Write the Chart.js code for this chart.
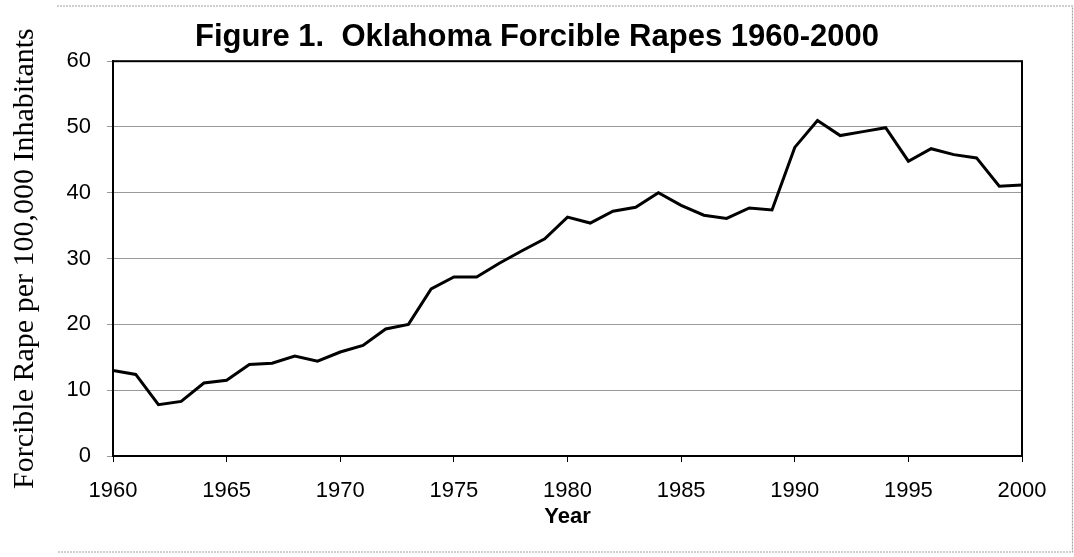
<!DOCTYPE html>
<html>
<head>
<meta charset="utf-8">
<script src="https://cdn.jsdelivr.net/npm/chart.js@4.4.0/dist/chart.umd.min.js"></script>
<style>
  html, body { margin: 0; padding: 0; background: #fff; }
  #wrap { width: 1074px; height: 557px; }
</style>
</head>
<body>
<div id="wrap"><canvas id="myChart" width="1074" height="557"></canvas></div>
<script>
const years = [
    1960, 1961, 1962, 1963, 1964, 1965, 1966, 1967, 1968, 1969,
    1970, 1971, 1972, 1973, 1974, 1975, 1976, 1977, 1978, 1979,
    1980, 1981, 1982, 1983, 1984, 1985, 1986, 1987, 1988, 1989,
    1990, 1991, 1992, 1993, 1994, 1995, 1996, 1997, 1998, 1999, 2000
];
const rapeRate = [
    13.0, 12.4, 7.8, 8.3, 11.1, 11.5, 13.9, 14.1, 15.2, 14.4,
    15.8, 16.8, 19.3, 20.0, 25.4, 27.2, 27.2, 29.3, 31.2, 33.0,
    36.3, 35.4, 37.2, 37.8, 40.0, 38.1, 36.6, 36.1, 37.7, 37.4,
    46.9, 51.0, 48.7, 49.3, 49.9, 44.8, 46.7, 45.8, 45.3, 41.0, 41.2
];
const yTicks = [0, 10, 20, 30, 40, 50, 60];
const xTicks = [1960, 1965, 1970, 1975, 1980, 1985, 1990, 1995, 2000];

const points = years.map((yr, i) => ({ x: yr, y: rapeRate[i] }));

// black frame round the plot area, light frame round the figure
const frames = {
    id: 'frames',
    afterDraw(chart) {
        const { ctx, chartArea: a } = chart;
        ctx.save();
        ctx.strokeStyle = '#000';
        ctx.lineWidth = 2;
        ctx.strokeRect(a.left, a.top, a.right - a.left, a.bottom - a.top);
        ctx.strokeStyle = '#a0a0a0';
        ctx.lineWidth = 1.2;
        ctx.setLineDash([2, 1]);
        ctx.beginPath();
        ctx.moveTo(57, 6);
        ctx.lineTo(1072.5, 6);
        ctx.lineTo(1072.5, 552);
        ctx.lineTo(57, 552);
        ctx.stroke();
        ctx.restore();
    }
};

const ctx = document.getElementById('myChart');

new Chart(ctx, {
    type: 'line',
    data: {
        datasets: [{
            label: 'Forcible Rape',
            data: points,
            borderColor: '#000',
            borderWidth: 3,
            pointRadius: 0,
            tension: 0,
            fill: false
        }]
    },
    options: {
        responsive: false,
        animation: false,
        layout: { padding: 0 },
        plugins: {
            legend: { display: false },
            tooltip: { enabled: false },
            title: {
                display: true,
                text: 'Figure 1.  Oklahoma Forcible Rapes 1960-2000',
                color: '#000',
                font: { family: 'Liberation Sans, Arial', size: 31, weight: 'bold' },
                padding: { top: 19, bottom: 5 }
            }
        },
        scales: {
            x: {
                type: 'linear',
                min: 1960,
                max: 2000,
                afterBuildTicks: (scale) => { scale.ticks = xTicks.map(v => ({ value: v })); },
                afterFit: (scale) => { scale.height = 101; },
                ticks: {
                    color: '#000',
                    font: { family: 'Liberation Sans, Arial', size: 22 },
                    padding: 16,
                    maxRotation: 0,
                    callback: (v) => String(v)
                },
                grid: { drawOnChartArea: false, drawTicks: true, tickLength: 6, color: '#000' },
                border: { color: '#000', width: 2 },
                title: {
                    display: true,
                    text: 'Year',
                    color: '#000',
                    font: { family: 'Liberation Sans, Arial', size: 22, weight: 'bold' },
                    padding: { top: 0, bottom: 27 }
                }
            },
            y: {
                min: 0,
                max: 60,
                afterBuildTicks: (scale) => { scale.ticks = yTicks.map(v => ({ value: v })); },
                afterFit: (scale) => { scale.width = 113; },
                ticks: {
                    color: '#000',
                    font: { family: 'Liberation Sans, Arial', size: 22 },
                    padding: 16
                },
                grid: { color: '#9a9a9a', lineWidth: 1, tickLength: 6 },
                border: { color: '#000', width: 2 },
                title: {
                    display: true,
                    text: 'Forcible Rape per 100,000 Inhabitants',
                    color: '#000',
                    font: { family: 'Liberation Serif, Times New Roman', size: 30 },
                    padding: { top: 7, bottom: 0 }
                }
            },
            // empty right axis only reserves the margin right of the plot
            yRight: {
                position: 'right',
                min: 0,
                max: 60,
                afterFit: (scale) => { scale.width = 52; },
                ticks: { display: false },
                grid: { display: false },
                border: { display: false }
            }
        }
    },
    plugins: [frames]
});
</script>
</body>
</html>
